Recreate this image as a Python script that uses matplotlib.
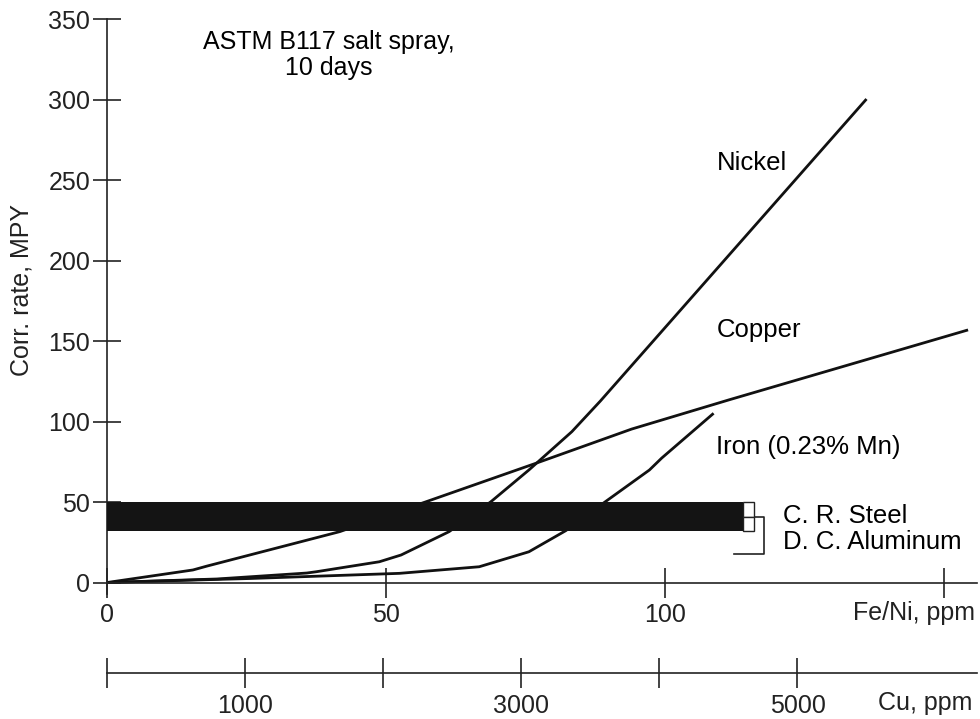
import matplotlib
matplotlib.use('Agg')
import matplotlib.pyplot as plt
import numpy as np

matplotlib.rc('font', family=['Liberation Sans', 'DejaVu Sans'], size=18)

# Fe/Ni concentration (ppm) vs corrosion rate (MPY)
copper_x = [0, 15.4, 17.9, 41.7, 57.2, 76.8, 94.0, 111.4, 154.3]
copper_y = [0, 7.8, 10.2, 31.6, 50.2, 74.0, 95.3, 113.4, 156.9]

nickel_x = [0, 19.7, 35.8, 37.5, 48.8, 52.7, 61.3, 68.8, 75.6, 83.3, 88.4, 136.1]
nickel_y = [0, 2.2, 5.9, 6.7, 12.9, 17.1, 31.6, 50.2, 69.9, 93.7, 112.7, 300.3]

iron_x = [0, 8.9, 25.6, 52.4, 66.7, 75.6, 82.2, 89.3, 97.2, 99.4, 108.7]
iron_y = [0, 0.9, 2.5, 5.7, 9.8, 19.1, 32.2, 50.2, 69.9, 77.3, 105.1]

# C. R. steel / D. C. aluminum band
band_low, band_high = 32, 50
band_end = 114

fe_ticks = [0, 50, 100, 150]
fe_labels = ['0', '50', '100', '']
cu_ticks = [0, 1000, 2000, 3000, 4000, 5000]
cu_labels = ['', '1000', '', '3000', '', '5000']
y_ticks = [0, 50, 100, 150, 200, 250, 300, 350]

W, H = 980, 719
fig = plt.figure(figsize=(W/100, H/100), dpi=100)

x_max = 155.9
cu_max = 6300
y_min, y_max = -7, 352
ax = fig.add_axes([107/W, 1 - 593.8/H, 870/W, (593.8 - 15.8)/H])
ax.set_xlim(0, x_max)
ax.set_ylim(y_min, y_max)

lw = 2.0
ax.plot(copper_x, copper_y, color='#111111', lw=lw, solid_capstyle='butt')
ax.plot(nickel_x, nickel_y, color='#111111', lw=lw, solid_capstyle='butt')
ax.plot(iron_x, iron_y, color='#111111', lw=lw, solid_capstyle='butt')

# band
mid = (band_low + band_high)/2
ax.barh(mid, band_end, height=band_high - band_low, left=0,
        color='#141414', edgecolor='none', zorder=3)
box_w = 2.0
ax.bar(band_end + box_w/2, band_high - mid, bottom=mid, width=box_w,
       facecolor='white', edgecolor='#222222', lw=1.0, zorder=4)
ax.bar(band_end + box_w/2, mid - band_low, bottom=band_low, width=box_w,
       facecolor='white', edgecolor='#222222', lw=1.0, zorder=4)
bx = band_end + box_w
ax.plot([bx, bx + 1.8, bx + 1.8, bx - 3.6], [mid, mid, 17.7, 17.7],
        color='#222222', lw=1.2)
ax.text(121.2, 41.3, 'C. R. Steel', va='center', ha='left', fontsize=18.5)
ax.text(121.2, 25.2, 'D. C. Aluminum', va='center', ha='left', fontsize=18.5)

# curve labels
ax.text(109.2, 260.6, 'Nickel', va='center', ha='left', fontsize=18.5)
ax.text(109.2, 156.8, 'Copper', va='center', ha='left', fontsize=18.5)
ax.text(109.2, 84.2, 'Iron (0.23% Mn)', va='center', ha='left', fontsize=18.5)

ax.text(39.7, 327.6, 'ASTM B117 salt spray,\n10 days', ha='center', va='center',
        linespacing=1.08)

# axes styling
for s in ['top', 'right']:
    ax.spines[s].set_visible(False)
ax.spines['bottom'].set_position(('data', 0))
ax.spines['left'].set_bounds(y_min, 350)
for s in ['left', 'bottom']:
    ax.spines[s].set_linewidth(1.2)
    ax.spines[s].set_color('#222222')

ax.set_yticks(y_ticks)
ax.set_xticks(fe_ticks)
ax.set_xticklabels(fe_labels)
ax.tick_params(axis='y', direction='inout', length=20, width=1.2, pad=2, colors='#222222')
ax.tick_params(axis='x', direction='inout', length=21, width=1.2, pad=4.5, colors='#222222')
fig.text(975/W, 1 - 613/H, 'Fe/Ni, ppm', ha='right', va='center', color='#222222')

fig.text(22/W, 1 - 290/H, 'Corr. rate, MPY', rotation=90, ha='center', va='center',
         color='#222222')

# Cu scale
cx = fig.add_axes([107/W, 1 - 673/H, 870/W, 0.0001])
cx.set_xlim(0, cu_max)
cx.set_ylim(0, 1)
for s in ['top', 'right', 'left']:
    cx.spines[s].set_visible(False)
cx.spines['bottom'].set_linewidth(1.2)
cx.spines['bottom'].set_color('#222222')
cx.set_yticks([])
cx.set_xticks(cu_ticks)
cx.set_xticklabels(cu_labels)
cx.tick_params(axis='x', direction='inout', length=21, width=1.2, pad=4.5, colors='#222222')
cx.set_facecolor('none')
fig.text(972/W, 1 - 703/H, 'Cu, ppm', ha='right', va='center', color='#222222')

fig.savefig('out.png', dpi=100)
